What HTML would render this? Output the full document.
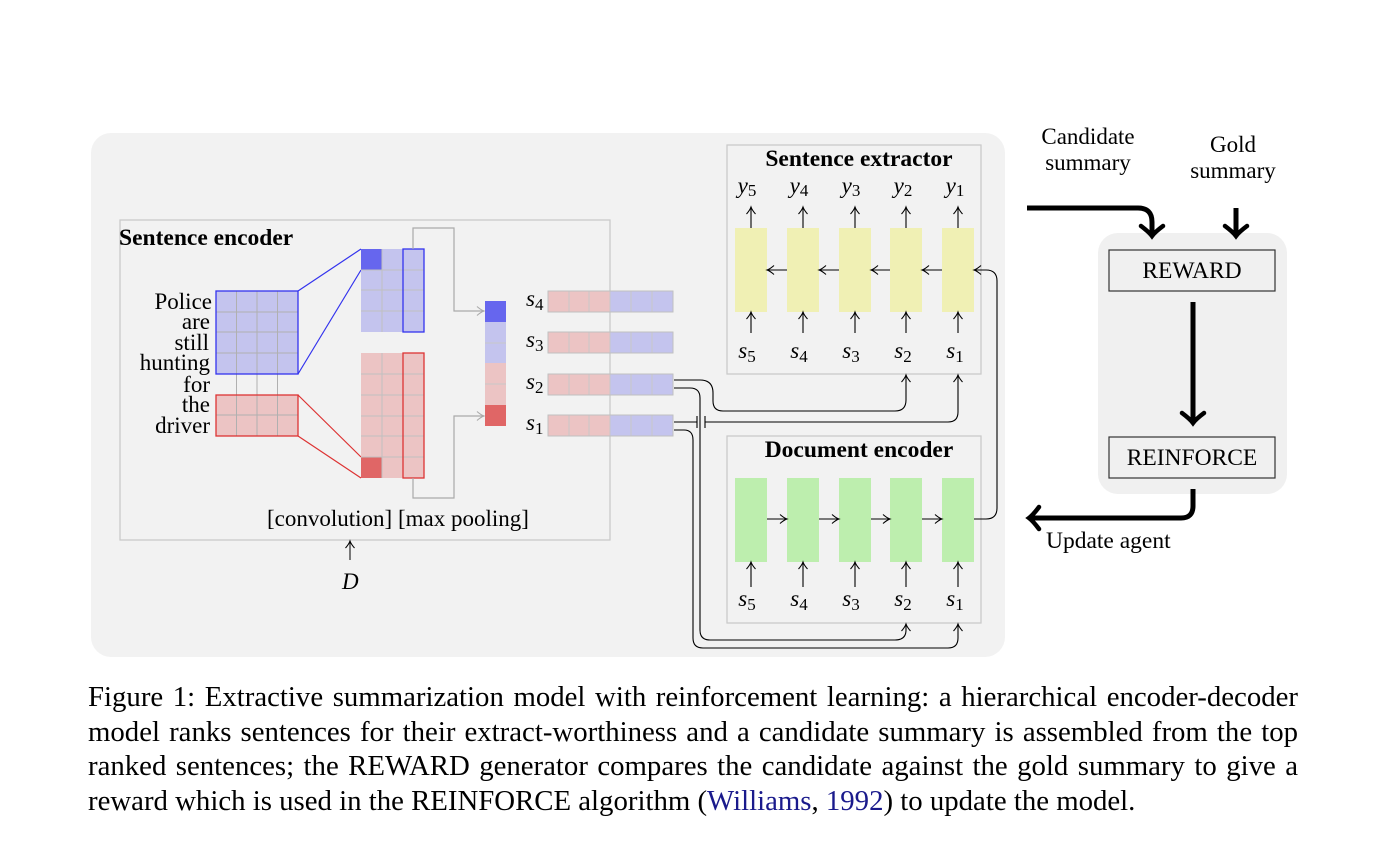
<!DOCTYPE html>
<html><head><meta charset="utf-8"><style>
body{margin:0;background:#fff;width:1374px;height:846px;overflow:hidden;position:relative;font-family:"Liberation Serif",serif;}
svg{position:absolute;left:0;top:0}
.cap{position:absolute;left:88px;top:680px;width:1210px;font-size:28.8px;line-height:34.7px;color:#000}
.cap div{text-align:justify;text-align-last:justify;white-space:nowrap}
.cap div.l{text-align-last:left}
.cap a{color:#1a1a8c;text-decoration:none}
</style></head><body>
<svg width="1374" height="846" viewBox="0 0 1374 846" font-family="Liberation Serif, serif">
<defs>
<marker id="a" markerWidth="12" markerHeight="12" refX="9" refY="6" orient="auto" markerUnits="userSpaceOnUse"><path d="M2,1.5 Q6,5 9,6 Q6,7 2,10.5" fill="none" stroke="#000" stroke-width="1.1"/></marker>
<marker id="g" markerWidth="12" markerHeight="12" refX="9" refY="6" orient="auto" markerUnits="userSpaceOnUse"><path d="M2,1.5 Q6,5 9,6 Q6,7 2,10.5" fill="none" stroke="#aaa" stroke-width="1.1"/></marker>
<marker id="b" markerWidth="30" markerHeight="30" refX="15" refY="15" orient="auto" markerUnits="userSpaceOnUse"><path d="M5,4 Q11,12 15,15 Q11,18 5,26" fill="none" stroke="#000" stroke-width="4.5" stroke-linecap="round"/></marker>
</defs>
<rect x="91" y="133" width="914" height="524" rx="20" fill="#f2f2f2"/>
<rect x="120" y="220" width="490" height="320" fill="none" stroke="#c8c8c8" stroke-width="1.2"/>
<text x="119" y="245" font-size="23.5" font-weight="bold">Sentence encoder</text>
<g font-size="23" text-anchor="end">
<text x="212" y="309">Police</text><text x="210" y="329">are</text><text x="209" y="350">still</text><text x="210" y="370">hunting</text><text x="210" y="392">for</text><text x="210" y="412">the</text><text x="210" y="433">driver</text></g>
<rect x="216" y="291" width="82" height="83" fill="#c4c4ee"/>
<rect x="216" y="395" width="82" height="41" fill="#ecc4c4"/>
<g stroke="#b0b0b0" stroke-width="1">
<path d="M236.5 291V436M257 291V436M277.5 291V436M216 312H298M216 332H298M216 353H298M216 415H298"/></g>
<rect x="216" y="291" width="82" height="83" fill="none" stroke="#3333ee" stroke-width="1.3"/>
<rect x="216" y="395" width="82" height="41" fill="none" stroke="#dd3333" stroke-width="1.3"/>
<path d="M298 291L361 249M298 374L361 270" stroke="#3333ee" stroke-width="1.2"/>
<path d="M298 395L361 457M298 436L361 478" stroke="#dd3333" stroke-width="1.2"/>
<rect x="361" y="249" width="63" height="83" fill="#c4c4ee"/>
<rect x="361" y="249" width="21" height="21" fill="#6666ee"/>
<rect x="361" y="353" width="63" height="125" fill="#ecc4c4"/>
<rect x="361" y="457" width="21" height="21" fill="#e06666"/>
<g stroke="#c0c0c0" stroke-width="1">
<path d="M382 249V332M403 249V332M361 270H424M361 290H424M361 311H424"/>
<path d="M382 353V478M403 353V478M361 374H424M361 395H424M361 416H424M361 436H424M361 457H424"/></g>
<rect x="403" y="249" width="21" height="83" fill="none" stroke="#3333ee" stroke-width="1.3"/>
<rect x="403" y="353" width="21" height="125" fill="none" stroke="#dd3333" stroke-width="1.3"/>
<path d="M413 249V228H454V311H484" fill="none" stroke="#aaa" stroke-width="1.2" marker-end="url(#g)"/>
<path d="M413 478V498H454V416H484" fill="none" stroke="#aaa" stroke-width="1.2" marker-end="url(#g)"/>
<rect x="485" y="301" width="21" height="21" fill="#6666ee"/>
<rect x="485" y="322" width="21" height="41" fill="#c4c4ee"/>
<rect x="485" y="363" width="21" height="42" fill="#ecc4c4"/>
<rect x="485" y="405" width="21" height="21" fill="#e06666"/>
<path d="M485 343H506M485 384H506" stroke="#c8c8c8"/>
<g font-size="23" font-style="italic">
<text x="526" y="306">s<tspan font-style="normal" font-size="17" dy="4">4</tspan></text>
<text x="526" y="347">s<tspan font-style="normal" font-size="17" dy="4">3</tspan></text>
<text x="526" y="389">s<tspan font-style="normal" font-size="17" dy="4">2</tspan></text>
<text x="526" y="430">s<tspan font-style="normal" font-size="17" dy="4">1</tspan></text></g>
<g id="sv">
<rect x="548" y="291" width="62" height="21" fill="#ecc4c4"/><rect x="610" y="291" width="63" height="21" fill="#c4c4ee"/>
<path d="M569 291V312M589 291V312M610 291V312M631 291V312M652 291V312" stroke="#c8c8c8"/>
<rect x="548" y="291" width="125" height="21" fill="none" stroke="#c0c0c0"/></g>
<use href="#sv" y="41"/><use href="#sv" y="83"/><use href="#sv" y="124"/>
<text x="267" y="526" font-size="23">[convolution] [max pooling]</text>
<path d="M350 560V541" stroke="#000" stroke-width="1" marker-end="url(#a)"/>
<text x="342" y="589" font-size="23" font-style="italic">D</text>
<rect x="727" y="145" width="254" height="229" fill="none" stroke="#c8c8c8" stroke-width="1.2"/>
<text x="859" y="166" font-size="23.5" font-weight="bold" text-anchor="middle">Sentence extractor</text>
<rect x="727" y="436" width="254" height="187" fill="none" stroke="#c8c8c8" stroke-width="1.2"/>
<text x="859" y="457" font-size="23.5" font-weight="bold" text-anchor="middle">Document encoder</text>
<g fill="#f0f0b4"><rect x="735" y="228" width="32" height="84"/><rect x="787" y="228" width="32" height="84"/><rect x="839" y="228" width="32" height="84"/><rect x="890" y="228" width="32" height="84"/><rect x="942" y="228" width="32" height="84"/></g>
<g fill="#bdeeae"><rect x="735" y="478" width="32" height="84"/><rect x="787" y="478" width="32" height="84"/><rect x="839" y="478" width="32" height="84"/><rect x="890" y="478" width="32" height="84"/><rect x="942" y="478" width="32" height="84"/></g>
<g stroke="#000" fill="none" stroke-width="1.1">
<path d="M751 228V207" marker-end="url(#a)"/><path d="M803 228V207" marker-end="url(#a)"/><path d="M855 228V207" marker-end="url(#a)"/><path d="M906 228V207" marker-end="url(#a)"/><path d="M958 228V207" marker-end="url(#a)"/>
<path d="M751 333V312" marker-end="url(#a)"/><path d="M803 333V312" marker-end="url(#a)"/><path d="M855 333V312" marker-end="url(#a)"/><path d="M906 333V312" marker-end="url(#a)"/><path d="M958 333V312" marker-end="url(#a)"/>
<path d="M751 587V562" marker-end="url(#a)"/><path d="M803 587V562" marker-end="url(#a)"/><path d="M855 587V562" marker-end="url(#a)"/><path d="M906 587V562" marker-end="url(#a)"/><path d="M958 587V562" marker-end="url(#a)"/>
<path d="M787 270H767" marker-end="url(#a)"/><path d="M839 270H819" marker-end="url(#a)"/><path d="M890 270H871" marker-end="url(#a)"/><path d="M942 270H922" marker-end="url(#a)"/>
<path d="M767 519H787" marker-end="url(#a)"/><path d="M819 519H839" marker-end="url(#a)"/><path d="M871 519H890" marker-end="url(#a)"/><path d="M922 519H942" marker-end="url(#a)"/>
<path d="M974 519H986Q997 519 997 508V281Q997 270 986 270H974" marker-end="url(#a)"/>
<path d="M674 380H700Q713 380 713 393V401Q713 411 723 411H895Q906 411 906 400V375" marker-end="url(#a)"/>
<path d="M674 388H690Q700 388 700 398V630Q700 640 710 640H895Q906 640 906 630V624" marker-end="url(#a)"/>
<path d="M674 422H697M705 422H948Q958 422 958 412V375" marker-end="url(#a)"/>
<path d="M697 416V428M705 416V428"/>
<path d="M674 430H684Q693 430 693 440V638Q693 648 703 648H948Q958 648 958 638V624" marker-end="url(#a)"/>
</g>
<g font-size="23" font-style="italic" text-anchor="middle">
<text x="747" y="193">y<tspan font-style="normal" font-size="17" dy="3">5</tspan></text><text x="799" y="193">y<tspan font-style="normal" font-size="17" dy="3">4</tspan></text><text x="851" y="193">y<tspan font-style="normal" font-size="17" dy="3">3</tspan></text><text x="903" y="193">y<tspan font-style="normal" font-size="17" dy="3">2</tspan></text><text x="955" y="193">y<tspan font-style="normal" font-size="17" dy="3">1</tspan></text>
<g id="ss"><text x="747" y="358">s<tspan font-style="normal" font-size="17" dy="4">5</tspan></text><text x="799" y="358">s<tspan font-style="normal" font-size="17" dy="4">4</tspan></text><text x="851" y="358">s<tspan font-style="normal" font-size="17" dy="4">3</tspan></text><text x="903" y="358">s<tspan font-style="normal" font-size="17" dy="4">2</tspan></text><text x="955" y="358">s<tspan font-style="normal" font-size="17" dy="4">1</tspan></text></g>
<use href="#ss" y="248"/></g>
<g font-size="23" text-anchor="middle">
<text x="1088" y="144">Candidate</text><text x="1088" y="170">summary</text>
<text x="1233" y="152">Gold</text><text x="1233" y="178">summary</text></g>
<rect x="1098" y="233" width="189" height="261" rx="20" fill="#f0f0f0"/>
<rect x="1109" y="250" width="166" height="41" fill="#f0f0f0" stroke="#333" stroke-width="1.2"/>
<text x="1192" y="278" font-size="23.5" text-anchor="middle">REWARD</text>
<rect x="1109" y="437" width="166" height="41" fill="#f0f0f0" stroke="#333" stroke-width="1.2"/>
<text x="1192" y="465" font-size="23.5" text-anchor="middle">REINFORCE</text>
<g stroke="#000" stroke-width="5" fill="none">
<path d="M1027 208H1138Q1152 208 1152 222V236" marker-end="url(#b)"/>
<path d="M1236 208V236" marker-end="url(#b)"/>
<path d="M1193 302V423" marker-end="url(#b)"/>
<path d="M1193 489V506Q1193 518 1181 518H1029" marker-end="url(#b)"/>
</g>
<text x="1046" y="548" font-size="23.5">Update agent</text>
</svg>
<div class="cap">
<div>Figure 1: Extractive summarization model with reinforcement learning: a hierarchical encoder-decoder</div>
<div>model ranks sentences for their extract-worthiness and a candidate summary is assembled from the top</div>
<div>ranked sentences; the REWARD generator compares the candidate against the gold summary to give a</div>
<div class="l">reward which is used in the REINFORCE algorithm (<a>Williams</a>, <a>1992</a>) to update the model.</div>
</div>
</body></html>
